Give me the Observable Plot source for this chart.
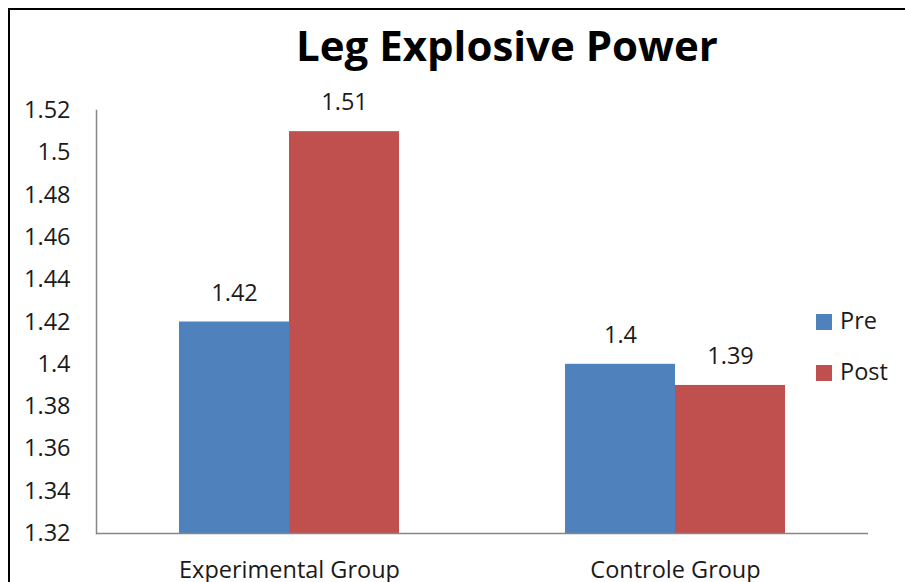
<!DOCTYPE html>
<html>
<head>
<meta charset="utf-8">
<script src="https://cdn.jsdelivr.net/npm/d3@7"></script>
<script src="https://cdn.jsdelivr.net/npm/@observablehq/plot@0.6"></script>
<style>
  html, body { margin: 0; padding: 0; background: #fff; }
  #chart { position: relative; width: 905px; height: 582px; overflow: hidden; font-family: "Open Sans", sans-serif; color: #1a1a1a; }
  #border { position: absolute; left: 8px; top: 8px; width: 1000px; height: 1000px; border: 2px solid #000; }
  #title { position: absolute; left: 0; top: 24px; width: 1014px; text-align: center; font-size: 42px; font-weight: 700; line-height: 1; color: #000; }
  #plot { position: absolute; left: 0; top: 0; }
  .legend { position: absolute; left: 816px; font-size: 23.5px; line-height: 1; white-space: nowrap; }
  .legend span.sw { display: inline-block; width: 16px; height: 16px; margin-right: 8px; vertical-align: -1px; }
</style>
</head>
<body>
<div id="chart">
  <div id="border"></div>
  <div id="plot"></div>
  <div id="title">Leg Explosive Power</div>
  <div id="legend"></div>
</div>
<script>
// Groups, series and their values
const groups = ["Experimental Group", "Controle Group"];
const series = ["Pre", "Post"];
const preValues = [1.42, 1.4];
const postValues = [1.51, 1.39];
const yTicks = [1.32, 1.34, 1.36, 1.38, 1.4, 1.42, 1.44, 1.46, 1.48, 1.5, 1.52];
const seriesColors = ["#4F81BD", "#C0504D"];

const rows = groups.flatMap((g, i) => [
  {group: g, series: series[0], value: preValues[i]},
  {group: g, series: series[1], value: postValues[i]}
]);

const yMin = yTicks[0];
const yMax = yTicks[yTicks.length - 1];

const chart = Plot.plot({
  width: 905,
  height: 582,
  marginLeft: 96,
  marginRight: 37,
  marginTop: 110,
  marginBottom: 49,
  style: {fontFamily: "'Open Sans', sans-serif", fontSize: "23.5px", color: "#1a1a1a", background: "transparent", overflow: "visible"},
  fx: {domain: groups, padding: 0, label: null},
  x: {domain: series, paddingInner: 0, paddingOuter: 0.746, axis: null},
  y: {domain: [yMin, yMax]},
  color: {domain: series, range: seriesColors},
  marks: [
    Plot.barY(rows, {fx: "group", x: "series", y1: yMin, y2: "value", fill: "series"}),
    Plot.text(rows, {fx: "group", x: "series", y: "value", text: d => String(d.value), dy: -29}),
    Plot.ruleY([yMin], {stroke: "#868686", strokeWidth: 1.5}),
    Plot.frame({anchor: "left", stroke: "#868686", strokeWidth: 1.5, fx: () => groups[0]}),
    Plot.axisY(yTicks, {tickSize: 0, tickPadding: 26, tickFormat: d => String(d), label: null}),
    Plot.axisFx({anchor: "bottom", tickSize: 0, tickPadding: 28, label: null})
  ]
});
document.getElementById("plot").appendChild(chart);

// Legend
const legend = document.getElementById("legend");
const legendTops = [309, 360];
series.forEach((s, i) => {
  const item = document.createElement("div");
  item.className = "legend";
  item.style.top = legendTops[i] + "px";
  item.innerHTML = `<span class="sw" style="background:${seriesColors[i]}"></span>${s}`;
  legend.appendChild(item);
});
</script>
</body>
</html>
